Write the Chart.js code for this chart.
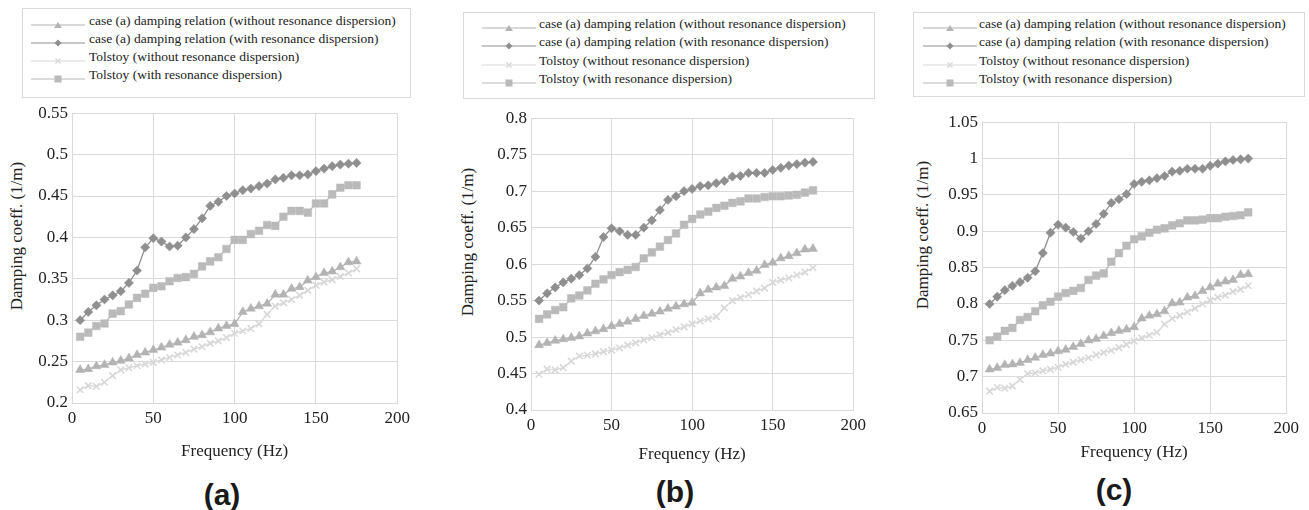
<!DOCTYPE html>
<html>
<head>
<meta charset="utf-8">
<script src="https://cdn.jsdelivr.net/npm/chart.js@4.4.0/dist/chart.umd.min.js"></script>
<style>
  body { margin: 0; background: #fff; width: 1309px; height: 510px; position: relative; overflow: hidden;
         font-family: "Liberation Serif", "Times New Roman", serif; }
  .holder { position: absolute; }
  .legend { position: absolute; border: 1px solid #d9d9d9; box-sizing: border-box; }
  .ltext { position: absolute; font-size: 13.5px; line-height: 16px; color: #222; white-space: nowrap; }
  .lsample { position: absolute; }
  .ytitle { position: absolute; font-size: 17px; color: #222; white-space: nowrap;
            transform: translate(-50%, -50%) rotate(-90deg); }
  .plabel { position: absolute; font-family: "Liberation Sans", Arial, sans-serif; font-weight: bold;
            font-size: 30px; color: #1a1a1a; transform: translate(-50%, -50%); }
</style>
</head>
<body>
<script>
  // frequencies (Hz)
  const freq = [5, 10, 15, 20, 25, 30, 35, 40, 45, 50, 55, 60, 65, 70, 75, 80, 85, 90, 95, 100,
    105, 110, 115, 120, 125, 130, 135, 140, 145, 150, 155, 160, 165, 170, 175];

  // panel (a)
  const a_caseNoDisp = [0.24, 0.241, 0.2445, 0.246, 0.249, 0.251, 0.254, 0.258, 0.261, 0.264,
    0.267, 0.2705, 0.273, 0.276, 0.28, 0.282, 0.2855, 0.29, 0.293, 0.2955,
    0.31, 0.314, 0.317, 0.32, 0.331, 0.331, 0.338, 0.34, 0.348, 0.352,
    0.357, 0.359, 0.364, 0.37, 0.371];
  const a_caseDisp = [0.30, 0.31, 0.318, 0.325, 0.33, 0.335, 0.345, 0.36, 0.388, 0.399,
    0.395, 0.389, 0.39, 0.40, 0.41, 0.423, 0.438, 0.443, 0.45, 0.453,
    0.457, 0.459, 0.462, 0.465, 0.47, 0.472, 0.475, 0.475, 0.476, 0.48,
    0.483, 0.486, 0.488, 0.489, 0.49];
  const a_tolNoDisp = [0.216, 0.221, 0.22, 0.225, 0.233, 0.24, 0.2425, 0.245, 0.247, 0.249,
    0.252, 0.255, 0.258, 0.261, 0.265, 0.268, 0.272, 0.275, 0.279, 0.284,
    0.287, 0.29, 0.2955, 0.307, 0.317, 0.321, 0.325, 0.33, 0.336, 0.342,
    0.346, 0.349, 0.353, 0.357, 0.362];
  const a_tolDisp = [0.28, 0.285, 0.293, 0.296, 0.308, 0.311, 0.319, 0.327, 0.332, 0.339,
    0.341, 0.347, 0.351, 0.352, 0.356, 0.365, 0.371, 0.376, 0.386, 0.397,
    0.397, 0.404, 0.408, 0.415, 0.414, 0.425, 0.432, 0.432, 0.43, 0.441,
    0.441, 0.452, 0.46, 0.463, 0.463];

  // panel (b)
  const b_caseNoDisp = [0.489, 0.492, 0.495, 0.497, 0.499, 0.501, 0.505, 0.508, 0.511, 0.515,
    0.518, 0.521, 0.525, 0.529, 0.532, 0.535, 0.539, 0.542, 0.545, 0.547,
    0.56, 0.565, 0.568, 0.57, 0.58, 0.583, 0.588, 0.591, 0.599, 0.602,
    0.608, 0.611, 0.615, 0.62, 0.621];
  const b_caseDisp = [0.55, 0.56, 0.568, 0.575, 0.58, 0.585, 0.594, 0.61, 0.637, 0.649,
    0.645, 0.64, 0.64, 0.65, 0.66, 0.674, 0.688, 0.693, 0.70, 0.703,
    0.707, 0.708, 0.711, 0.714, 0.72, 0.721, 0.725, 0.725, 0.725, 0.729,
    0.732, 0.735, 0.737, 0.739, 0.74];
  const b_tolNoDisp = [0.449, 0.456, 0.455, 0.458, 0.467, 0.474, 0.475, 0.477, 0.48, 0.482,
    0.485, 0.489, 0.492, 0.496, 0.499, 0.503, 0.506, 0.51, 0.514, 0.518,
    0.522, 0.525, 0.528, 0.54, 0.55, 0.554, 0.558, 0.563, 0.567, 0.575,
    0.578, 0.581, 0.585, 0.589, 0.595];
  const b_tolDisp = [0.525, 0.531, 0.537, 0.541, 0.553, 0.557, 0.564, 0.573, 0.579, 0.585,
    0.589, 0.592, 0.596, 0.608, 0.616, 0.624, 0.633, 0.642, 0.654, 0.662,
    0.668, 0.672, 0.677, 0.68, 0.684, 0.686, 0.69, 0.69, 0.692, 0.693,
    0.693, 0.694, 0.695, 0.698, 0.701];

  // panel (c)
  const c_caseNoDisp = [0.71, 0.712, 0.716, 0.717, 0.719, 0.723, 0.726, 0.73, 0.732, 0.735,
    0.737, 0.741, 0.745, 0.75, 0.752, 0.756, 0.76, 0.763, 0.765, 0.768,
    0.78, 0.784, 0.786, 0.79, 0.801, 0.802, 0.809, 0.811, 0.818, 0.823,
    0.828, 0.831, 0.833, 0.84, 0.841];
  const c_caseDisp = [0.80, 0.81, 0.819, 0.825, 0.83, 0.836, 0.845, 0.87, 0.898, 0.909,
    0.905, 0.899, 0.89, 0.90, 0.91, 0.924, 0.939, 0.944, 0.951, 0.965,
    0.968, 0.97, 0.973, 0.976, 0.982, 0.983, 0.986, 0.986, 0.986, 0.99,
    0.993, 0.996, 0.998, 0.999, 1.0];
  const c_tolNoDisp = [0.68, 0.685, 0.684, 0.687, 0.696, 0.704, 0.705, 0.708, 0.71, 0.713,
    0.717, 0.72, 0.723, 0.726, 0.73, 0.733, 0.736, 0.74, 0.744, 0.749,
    0.753, 0.757, 0.761, 0.772, 0.78, 0.784, 0.789, 0.794, 0.8, 0.805,
    0.809, 0.812, 0.817, 0.82, 0.825];
  const c_tolDisp = [0.75, 0.755, 0.763, 0.767, 0.778, 0.782, 0.79, 0.798, 0.803, 0.81,
    0.815, 0.818, 0.822, 0.833, 0.839, 0.842, 0.858, 0.87, 0.88, 0.889,
    0.893, 0.898, 0.902, 0.904, 0.908, 0.911, 0.915, 0.915, 0.916, 0.918,
    0.918, 0.92, 0.921, 0.922, 0.926];

  // axes
  const xTicks = [0, 50, 100, 150, 200];
  const yTicksA = [0.2, 0.25, 0.3, 0.35, 0.4, 0.45, 0.5, 0.55];
  const yTicksB = [0.4, 0.45, 0.5, 0.55, 0.6, 0.65, 0.7, 0.75, 0.8];
  const yTicksC = [0.65, 0.7, 0.75, 0.8, 0.85, 0.9, 0.95, 1, 1.05];

  const seriesNames = [
    'case (a) damping relation (without resonance dispersion)',
    'case (a) damping relation (with resonance dispersion)',
    'Tolstoy (without resonance dispersion)',
    'Tolstoy (with resonance dispersion)'
  ];
  const xTitle = 'Frequency (Hz)';
  const yTitle = 'Damping coeff. (1/m)';

  // look of each series
  const styles = [
    { color: '#b3b3b3', point: 'triangle', r: 5.2 },
    { color: '#8f8f8f', point: 'rectRot', r: 4.6 },
    { color: '#d8d8d8', point: 'crossRot', r: 4.6 },
    { color: '#bababa', point: 'rect', r: 5.4 }
  ];

  const panels = [
    { series: [a_caseNoDisp, a_caseDisp, a_tolNoDisp, a_tolDisp], yTicks: yTicksA,
      plot: { l: 72, t: 111, r: 399, b: 403 }, xTitleY: 452, yTitlePos: [17, 236],
      legend: { l: 22, t: 8, r: 411, b: 98, rows: [21, 39, 57, 75], sample: 31, text: 89 },
      label: '(a)', labelPos: [222, 495] },
    { series: [b_caseNoDisp, b_caseDisp, b_tolNoDisp, b_tolDisp], yTicks: yTicksB,
      plot: { l: 531, t: 116, r: 855, b: 410 }, xTitleY: 455, yTitlePos: [468, 242],
      legend: { l: 463, t: 12, r: 875, b: 99, rows: [24, 42, 61, 79], sample: 482, text: 539 },
      label: '(b)', labelPos: [675, 492] },
    { series: [c_caseNoDisp, c_caseDisp, c_tolNoDisp, c_tolDisp], yTicks: yTicksC,
      plot: { l: 982, t: 120, r: 1288, b: 413 }, xTitleY: 453, yTitlePos: [923, 235],
      legend: { l: 913, t: 12, r: 1305, b: 97, rows: [24, 42, 61, 79], sample: 923, text: 979 },
      label: '(c)', labelPos: [1114, 490] }
  ];

  const AXIS_W = 72, AXIS_H = 72, PAD_T = 12, PAD_R = 16;
  const gridColor = '#dadada';

  function el(tag, cls, css, parent) {
    const e = document.createElement(tag);
    if (cls) e.className = cls;
    Object.assign(e.style, css || {});
    (parent || document.body).appendChild(e);
    return e;
  }

  function sampleSvg(st) {
    const c = st.color;
    let m = '';
    if (st.point === 'triangle') m = '<polygon points="27,2 31,8 23,8" fill="' + c + '"/>';
    if (st.point === 'rectRot') m = '<polygon points="27,1.5 30.5,5 27,8.5 23.5,5" fill="' + c + '"/>';
    if (st.point === 'crossRot') m = '<path d="M24.5,2.5 L29.5,7.5 M29.5,2.5 L24.5,7.5" stroke="' + c + '" stroke-width="1.4"/>';
    if (st.point === 'rect') m = '<rect x="23.5" y="1.5" width="7" height="7" fill="' + c + '"/>';
    return '<svg width="54" height="10" xmlns="http://www.w3.org/2000/svg">' +
      '<line x1="0" y1="5" x2="54" y2="5" stroke="' + c + '" stroke-width="1.2"/>' + m + '</svg>';
  }

  function drawPanel(p) {
    // legend box
    const lg = p.legend;
    el('div', 'legend', { left: lg.l + 'px', top: lg.t + 'px', width: (lg.r - lg.l) + 'px', height: (lg.b - lg.t) + 'px' });
    seriesNames.forEach((name, i) => {
      const s = el('div', 'lsample', { left: lg.sample + 'px', top: (lg.rows[i] - 5) + 'px' });
      s.innerHTML = sampleSvg(styles[i]);
      const t = el('div', 'ltext', { left: lg.text + 'px', top: (lg.rows[i] - 8) + 'px' });
      t.textContent = name;
    });

    // y axis title and panel label
    const yt = el('div', 'ytitle', { left: p.yTitlePos[0] + 'px', top: p.yTitlePos[1] + 'px' });
    yt.textContent = yTitle;
    const pl = el('div', 'plabel', { left: p.labelPos[0] + 'px', top: p.labelPos[1] + 'px' });
    pl.textContent = p.label;

    // chart canvas
    const left = p.plot.l - AXIS_W, top = p.plot.t - PAD_T;
    const w = p.plot.r - p.plot.l + AXIS_W + PAD_R;
    const h = p.plot.b - p.plot.t + PAD_T + AXIS_H;
    const holder = el('div', 'holder', { left: left + 'px', top: top + 'px', width: w + 'px', height: h + 'px' });
    const cv = document.createElement('canvas');
    holder.appendChild(cv);

    const titleLH = 17 * 1.2;
    const xTitlePad = (p.plot.b + AXIS_H) - p.xTitleY - titleLH / 2;

    const datasets = p.series.map((vals, i) => ({
      label: seriesNames[i],
      data: freq.map((f, k) => ({ x: f, y: vals[k] })),
      borderColor: styles[i].color,
      backgroundColor: styles[i].color,
      borderWidth: 1.3,
      pointStyle: styles[i].point,
      pointRadius: styles[i].r,
      pointBorderWidth: styles[i].point === 'crossRot' ? 1.6 : 0.5,
      pointBorderColor: styles[i].color,
      pointBackgroundColor: styles[i].color,
      tension: 0
    }));

    const yt0 = p.yTicks[0], yt1 = p.yTicks[p.yTicks.length - 1];
    new Chart(cv, {
      type: 'line',
      data: { datasets: datasets },
      options: {
        responsive: true,
        maintainAspectRatio: false,
        animation: false,
        layout: { padding: { top: PAD_T, right: PAD_R, left: 0, bottom: 0 } },
        plugins: { legend: { display: false }, tooltip: { enabled: false } },
        scales: {
          x: {
            type: 'linear', min: xTicks[0], max: xTicks[xTicks.length - 1],
            afterFit: s => { s.height = AXIS_H; },
            afterBuildTicks: s => { s.ticks = xTicks.map(v => ({ value: v })); },
            grid: { color: gridColor, drawTicks: false },
            border: { color: gridColor },
            ticks: { color: '#222', padding: 5, font: { family: 'Liberation Serif', size: 17 } },
            title: { display: true, text: xTitle, color: '#222', padding: { top: 0, bottom: xTitlePad },
                     font: { family: 'Liberation Serif', size: 17 } }
          },
          y: {
            type: 'linear', min: yt0, max: yt1,
            afterFit: s => { s.width = AXIS_W; },
            afterBuildTicks: s => { s.ticks = p.yTicks.map(v => ({ value: v })); },
            grid: { color: gridColor, drawTicks: false },
            border: { color: gridColor },
            ticks: { color: '#222', padding: 4, font: { family: 'Liberation Serif', size: 17 },
                     callback: v => String(parseFloat(v.toFixed(2))) }
          }
        }
      }
    });
  }

  panels.forEach(drawPanel);
</script>
</body>
</html>
